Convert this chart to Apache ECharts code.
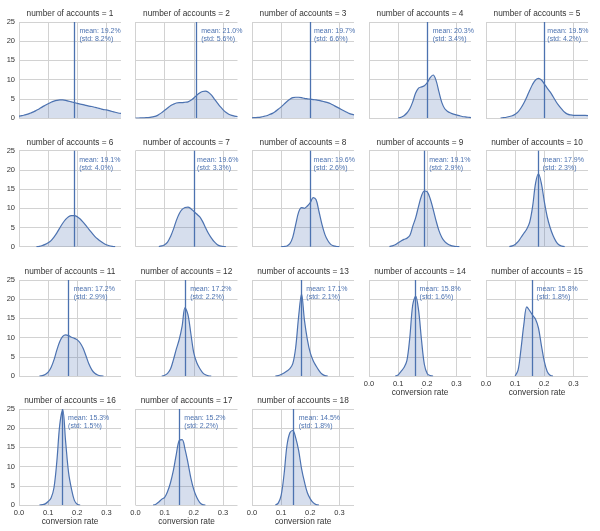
<!DOCTYPE html>
<html><head><meta charset="utf-8">
<script src="https://cdn.jsdelivr.net/npm/echarts@6/dist/echarts.min.js"></script>
<style>html,body{margin:0;padding:0;background:#fff}#c{width:600px;height:531px}</style>
</head><body><div id="c"></div>
<script>
// ---- data ----
const accounts = [1,2,3,4,5,6,7,8,9,10,11,12,13,14,15,16,17,18];
const meanPct = [19.2,21.0,19.7,20.3,19.5,19.1,19.6,19.6,19.1,17.9,17.2,17.2,17.1,15.8,15.8,15.3,15.2,14.5];
const stdPct  = [8.2,5.6,6.6,3.4,4.2,4.0,3.3,2.6,2.9,2.3,2.9,2.2,2.1,1.6,1.8,1.5,2.2,1.8];
const xGrid = [0,0.01,0.02,0.03,0.04,0.05,0.06,0.07,0.08,0.09,0.10,0.11,0.12,0.13,0.14,0.15,0.16,0.17,0.18,0.19,
               0.20,0.21,0.22,0.23,0.24,0.25,0.26,0.27,0.28,0.29,0.30,0.31,0.32,0.33,0.34,0.35];
const _ = null;
const density1  = [0.5,0.6,0.8,1.0,1.3,1.6,2.0,2.4,2.9,3.3,3.7,4.1,4.4,4.6,4.7,4.7,4.6,4.4,4.2,4.0,3.8,3.6,3.5,3.3,3.1,3.0,2.8,2.6,2.4,2.2,2.1,1.9,1.7,1.5,1.3,1.2];
const density2  = [0,0,0.02,0.05,0.1,0.15,0.3,0.5,0.9,1.4,2.0,2.6,3.2,3.6,3.9,4.0,4.0,4.1,4.2,4.6,5.2,5.9,6.5,6.9,7.0,6.7,6.0,5.0,4.0,3.0,2.2,1.5,1.0,0.7,0.5,0.35];
const density3  = [0.05,0.1,0.15,0.25,0.4,0.6,0.9,1.2,1.7,2.3,2.9,3.6,4.3,4.9,5.3,5.4,5.4,5.3,5.1,5.0,4.9,4.8,4.7,4.6,4.4,4.2,4.0,3.7,3.3,2.9,2.5,2.1,1.7,1.3,1.0,0.8];
const density4  = [_,_,_,_,_,_,_,_,_,_,0,0.2,0.6,1.3,2.4,4.2,6.5,7.8,8.1,8.4,9.2,10.5,11.2,9.8,6.8,4.0,2.4,1.7,1.3,1.0,0.8,0.6,0.4,0.3,0.2,0.1];
const density5  = [_,_,_,_,_,0,0.1,0.2,0.4,0.6,1.0,1.6,2.6,3.9,5.5,7.2,8.8,9.9,10.3,9.9,8.9,7.8,6.8,5.6,4.3,3.2,2.3,1.5,1.0,0.8,0.7,0.7,0.7,0.7,0.7,0.6];
const density6  = [_,_,_,_,_,_,0,0.1,0.3,0.6,1.0,1.6,2.5,3.6,4.9,6.1,7.1,7.8,8.1,8.1,7.8,7.2,6.4,5.5,4.5,3.6,2.7,2.0,1.4,0.9,0.5,0.25,0.1,0,_,_];
const density7  = [_,_,_,_,_,_,_,_,0,0.2,0.5,1.2,2.6,4.5,6.8,8.6,9.7,10.2,10.3,9.9,9.2,8.5,7.8,6.6,5.0,3.5,2.3,1.3,0.6,0.2,0.05,0,_,_,_,_];
const density8  = [_,_,_,_,_,_,_,_,_,_,0,0.05,0.2,0.8,2.5,5.8,9.0,10.2,10.0,10.6,11.5,12.8,12.2,9.1,5.8,3.2,1.6,0.6,0.2,0.05,0,_,_,_,_,_];
const density9  = [_,_,_,_,_,_,_,0,0.2,0.5,1.0,1.5,1.9,2.2,2.9,5.3,7.5,10.5,13.2,14.5,14.3,12.5,9.8,6.8,4.2,2.4,1.3,0.7,0.35,0.15,0.05,0,_,_,_,_];
const density10 = [_,_,_,_,_,_,_,_,0,0.2,0.6,1.3,2.4,3.5,4.6,6.4,10.5,16.5,19.0,16.5,11.8,7.8,5.0,2.9,1.4,0.5,0.15,0,_,_,_,_,_,_,_,_];
const density11 = [_,_,_,_,_,_,_,0,0.1,0.4,1.0,2.2,4.2,6.8,9.0,10.3,10.7,10.5,10.1,9.8,9.4,8.6,7.2,5.2,3.1,1.6,0.7,0.25,0.05,0,_,_,_,_,_,_];
const density12 = [_,_,_,_,_,_,_,_,_,0,0.2,0.7,1.8,4.2,7.0,9.5,13.0,17.8,16.0,11.0,6.0,3.5,2.0,0.9,0.3,0.05,0,_,_,_,_,_,_,_,_,_];
const density13 = [_,_,_,_,_,_,_,_,0,0.1,0.4,0.8,1.3,1.9,3.2,7.5,15.5,21.3,14.5,9.5,6.0,4.0,2.6,1.4,0.5,0.1,0,_,_,_,_,_,_,_,_,_];
const density14 = [_,_,_,_,_,_,_,_,_,0,0.3,1.2,2.2,4.0,10.0,18.5,20.8,17.2,9.5,3.0,0.6,0.1,0,_,_,_,_,_,_,_,_,_,_,_,_,_];
const density15 = [_,_,_,_,_,_,_,_,_,_,0,1.5,7.0,13.5,18.0,17.0,15.8,14.8,12.5,8.0,3.8,1.2,0.2,0,_,_,_,_,_,_,_,_,_,_,_,_];
const density16 = [_,_,_,_,_,_,_,0,0.1,0.3,0.9,1.8,4.5,11.5,21.0,24.8,16.5,8.5,4.2,1.2,0.2,0,_,_,_,_,_,_,_,_,_,_,_,_,_,_];
const density17 = [_,_,_,_,_,_,0,0.2,0.8,1.5,2.0,3.5,5.8,9.0,13.2,16.8,17.0,14.5,11.0,7.0,4.0,2.0,0.7,0.1,0,_,_,_,_,_,_,_,_,_,_,_];
const density18 = [_,_,_,_,_,_,_,_,0,0.5,2.5,8.0,15.5,18.8,19.4,17.5,14.2,9.5,6.0,3.2,1.6,0.6,0.1,0,_,_,_,_,_,_,_,_,_,_,_,_];
const densities = [density1,density2,density3,density4,density5,density6,density7,density8,density9,
                   density10,density11,density12,density13,density14,density15,density16,density17,density18];
const xTicks = [0, 0.1, 0.2, 0.3];
const yTicks = [0, 5, 10, 15, 20, 25];
const xAxisTitle = 'conversion rate';
const panelsWithXLabels = [14, 15, 16, 17, 18];

// ---- layout / style ----
const colLeft = [19, 135.5, 252, 369, 486];
const rowTop = [22, 150.7, 280, 409];
const plotW = 102, plotH = 96;
const BLUE = '#4c72b0';
const TXT = '#333333';
const GRIDC = '#d2d2d2';
const FONT = '"Liberation Sans", Arial, sans-serif';

const grids = [], xAxes = [], yAxes = [], series = [], titles = [];
accounts.forEach((n, i) => {
  const r = Math.floor(i / 5), c = i % 5;
  grids.push({left: colLeft[c], top: rowTop[r], width: plotW, height: plotH, containLabel: false});
  const showX = panelsWithXLabels.includes(n);
  xAxes.push({
    type: 'value', gridIndex: i, min: 0, max: 0.35, interval: 0.1,
    axisLine: {show: false}, axisTick: {show: false},
    splitLine: {show: true, lineStyle: {color: [GRIDC, GRIDC, GRIDC, GRIDC, 'rgba(0,0,0,0)'], width: 1}},
    axisLabel: {show: showX, margin: 4, fontSize: 7.5, color: TXT, fontFamily: FONT,
      formatter: v => xTicks.some(t => Math.abs(t - v) < 1e-9) ? v.toFixed(1) : ''},
    name: showX ? xAxisTitle : '', nameLocation: 'middle', nameGap: 13,
    nameTextStyle: {fontSize: 8.3, color: TXT, fontFamily: FONT}
  });
  yAxes.push({
    type: 'value', gridIndex: i, min: 0, max: 25, interval: 5,
    axisLine: {show: false}, axisTick: {show: false},
    splitLine: {show: true, lineStyle: {color: GRIDC, width: 1}},
    axisLabel: {show: c === 0, margin: 4, fontSize: 7.5, color: TXT, fontFamily: FONT,
      formatter: v => yTicks.includes(v) ? String(v) : ''}
  });
  titles.push({
    text: 'number of accounts = ' + n,
    left: colLeft[c] + plotW / 2, top: rowTop[r] - 12, textAlign: 'center', padding: 0,
    textStyle: {fontSize: 8.3, fontWeight: 'normal', color: TXT, fontFamily: FONT}
  });
  const m = meanPct[i] / 100;
  series.push({
    type: 'line', xAxisIndex: i, yAxisIndex: i,
    data: xGrid.map((x, k) => [x, densities[i][k]]),
    smooth: 0.35, showSymbol: false, symbol: 'none', connectNulls: false,
    lineStyle: {color: BLUE, width: 1.2},
    areaStyle: {color: 'rgba(76,114,176,0.33)'},
    clip: true,
    markLine: {
      silent: true, symbol: ['none', 'none'], animation: false,
      label: {show: false},
      lineStyle: {color: BLUE, width: 1.3, type: 'solid'},
      data: [{xAxis: m}]
    },
    markPoint: {
      silent: true, animation: false,
      symbol: 'circle', symbolSize: 1, itemStyle: {color: 'rgba(0,0,0,0)'},
      label: {show: true, position: 'right', distance: 4, color: BLUE, fontSize: 7, lineHeight: 8,
        fontFamily: FONT, align: 'left',
        formatter: () => 'mean: ' + meanPct[i].toFixed(1) + '%\n(std: ' + stdPct[i].toFixed(1) + '%)'},
      data: [{coord: [m, 21.6]}]
    }
  });
});

const chart = echarts.init(document.getElementById('c'), null, {renderer: 'canvas'});
chart.setOption({
  animation: false,
  backgroundColor: '#ffffff',
  textStyle: {fontFamily: FONT},
  title: titles,
  grid: grids,
  xAxis: xAxes,
  yAxis: yAxes,
  series: series
});
</script>
</body></html>
